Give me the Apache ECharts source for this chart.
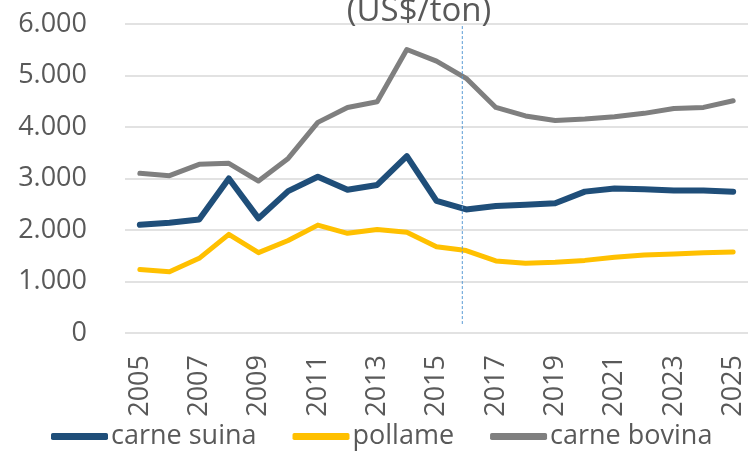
<!DOCTYPE html>
<html>
<head>
<meta charset="utf-8">
<script src="https://cdn.jsdelivr.net/npm/echarts@6/dist/echarts.min.js"></script>
<style>html,body{margin:0;padding:0;background:#fff}#c{width:748px;height:452px}</style>
</head>
<body>
<div id="c"></div>
<script>
var years = ['2005','2006','2007','2008','2009','2010','2011','2012','2013','2014','2015','2016','2017','2018','2019','2020','2021','2022','2023','2024','2025'];
var carneSuina = [2100,2140,2205,3000,2225,2755,3035,2780,2875,3435,2565,2400,2465,2490,2520,2745,2805,2790,2765,2765,2745];
var pollame = [1235,1190,1450,1915,1560,1795,2095,1935,2010,1955,1675,1600,1400,1355,1375,1410,1470,1515,1535,1560,1575];
var carneBovina = [3100,3055,3275,3295,2950,3390,4090,4380,4490,5505,5280,4945,4380,4215,4125,4155,4200,4265,4360,4380,4510];
var forecastLine = [[10.87,5960],[10.87,175]];
var yTicks = {min:0, max:6000, interval:1000};

var font = 'Open Sans';
var chart = echarts.init(document.getElementById('c'), null, {renderer:'canvas'});
chart.setOption({
  animation:false,
  backgroundColor:'#ffffff',
  title:{text:'(US$/ton)', left:414, top:-9, textAlign:'center',
    textStyle:{fontFamily:font, fontSize:33, fontWeight:'normal', color:'#595959', lineHeight:32}},
  grid:{left:125, right:-7, top:24, bottom:119, containLabel:false},
  legend:{data:['carne suina','pollame','carne bovina'], bottom:-3, left:46, itemGap:36,
    itemWidth:57, itemHeight:7, icon:'roundRect',
    textStyle:{fontFamily:font, fontSize:27, color:'#595959', padding:[0,0,0,-2]}},
  xAxis:[{type:'category', data:years, boundaryGap:true,
    axisLine:{show:false}, axisTick:{show:false},
    axisLabel:{rotate:90, interval:1, margin:22, fontFamily:font, fontSize:27, color:'#595959'}},
    {type:'value', min:-0.5, max:20.5, show:false}],
  yAxis:{type:'value', min:yTicks.min, max:yTicks.max, interval:yTicks.interval,
    axisLine:{show:false}, axisTick:{show:false},
    splitLine:{lineStyle:{color:'#D9D9D9', width:1.5}},
    axisLabel:{margin:38, fontFamily:font, fontSize:27, color:'#595959',
      formatter:function(v){return String(v).replace(/\B(?=(\d{3})+(?!\d))/g,'.');}}},
  series:[
    {name:'carne suina', type:'line', data:carneSuina, symbol:'none', color:'#1F4E79',
      lineStyle:{width:6, color:'#1F4E79', cap:'round', join:'round'}},
    {name:'pollame', type:'line', data:pollame, symbol:'none', color:'#FFC000',
      lineStyle:{width:5, color:'#FFC000', cap:'round', join:'round'}},
    {name:'carne bovina', type:'line', data:carneBovina, symbol:'none', color:'#7F7F7F',
      lineStyle:{width:5, color:'#7F7F7F', cap:'round', join:'round'}},
    {name:'forecast', type:'line', xAxisIndex:1, data:forecastLine, symbol:'none', silent:true,
      lineStyle:{width:1, color:'#5B9BD5', type:[3,2]}}
  ]
});
</script>
</body>
</html>
